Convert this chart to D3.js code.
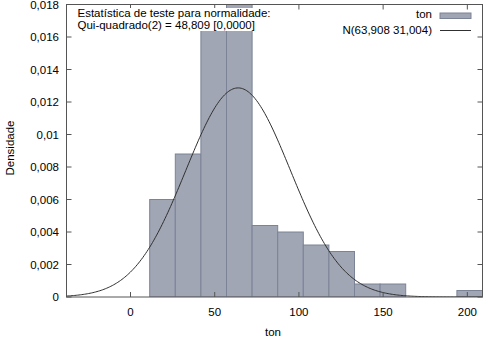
<!DOCTYPE html>
<html><head><meta charset="utf-8">
<script src="https://cdn.jsdelivr.net/npm/d3@7"></script>
<style>
html,body{margin:0;padding:0;background:#fff;}
text{font-family:"Liberation Sans",Arial,sans-serif;fill:#000;}
</style></head>
<body>
<svg id="chart" width="488" height="341"></svg>
<script>
// ---- data ----
const binLower = [11.4, 26.6, 41.8, 57.0, 72.2, 87.4, 102.6, 117.8, 133.0, 148.2, 163.4, 178.6, 193.8];
const binWidth = 15.2;
const density = [0.0060, 0.0088, 0.0165, 0.0184, 0.0044, 0.0040, 0.0032, 0.0028, 0.0008, 0.0008, 0, 0, 0.0004];
const normMean = 63.908;
const normSd = 31.004;
const xTicks = [0, 50, 100, 150, 200];
const yTicks = [0, 0.002, 0.004, 0.006, 0.008, 0.01, 0.012, 0.014, 0.016, 0.018];
const seriesName = "ton";
const curveName = "N(63,908 31,004)";
const statLines = ["Estatística de teste para normalidade:", "Qui-quadrado(2) = 48,809 [0,0000]"];
const xLabel = "ton";
const yLabel = "Densidade";

// ---- layout ----
const L = 66.5, R = 482.5, T = 4.5, B = 297;
const svg = d3.select("#chart");
const x = d3.scaleLinear().domain([-38, 209]).range([L, R]);
const y = d3.scaleLinear().domain([0, 0.018]).range([B, T]);
const fmt = v => v === 0 ? "0" : String(+v.toFixed(3)).replace(".", ",");

svg.append("clipPath").attr("id", "clip")
  .append("rect").attr("x", L).attr("y", T).attr("width", R - L).attr("height", B - T);

const plot = svg.append("g").attr("clip-path", "url(#clip)");

// bars
const bins = binLower.map((lo, i) => ({lo, hi: lo + binWidth, d: density[i]})).filter(b => b.d > 0);
plot.selectAll("rect.bar").data(bins).join("rect")
  .attr("class", "bar")
  .attr("x", b => x(b.lo))
  .attr("width", b => x(b.hi) - x(b.lo))
  .attr("y", b => y(b.d))
  .attr("height", b => y(0) - y(b.d))
  .attr("fill", "#a0a6b4")
  .attr("stroke", "#7b8396")
  .attr("stroke-width", 1);

// normal curve from the stated parameters
const pdf = v => Math.exp(-0.5 * ((v - normMean) / normSd) ** 2) / (normSd * Math.sqrt(2 * Math.PI));
const xs = d3.range(0, 301).map(i => -38 + i * (247 / 300));
plot.append("path")
  .datum(xs)
  .attr("fill", "none")
  .attr("stroke", "#303030")
  .attr("stroke-width", 1)
  .attr("d", d3.line().x(v => x(v)).y(v => y(pdf(v))));

// frame
svg.append("rect").attr("x", L).attr("y", T).attr("width", R - L).attr("height", B - T)
  .attr("fill", "none").attr("stroke", "#555").attr("stroke-width", 1);

// ticks (mirrored, inward)
const tk = 5;
const tg = svg.append("g").attr("stroke", "#555").attr("stroke-width", 1);
xTicks.forEach(v => {
  tg.append("line").attr("x1", x(v)).attr("x2", x(v)).attr("y1", B).attr("y2", B - tk);
  tg.append("line").attr("x1", x(v)).attr("x2", x(v)).attr("y1", T).attr("y2", T + tk);
});
yTicks.forEach(v => {
  tg.append("line").attr("x1", L).attr("x2", L + tk).attr("y1", y(v)).attr("y2", y(v));
  tg.append("line").attr("x1", R).attr("x2", R - tk).attr("y1", y(v)).attr("y2", y(v));
});

// tick labels
svg.selectAll("text.xt").data(xTicks).join("text").attr("class", "xt")
  .attr("x", v => x(v)).attr("y", 316).attr("text-anchor", "middle")
  .attr("font-size", 11.5).text(v => v);
svg.selectAll("text.yt").data(yTicks).join("text").attr("class", "yt")
  .attr("x", 59).attr("y", v => y(v) + 4).attr("text-anchor", "end")
  .attr("font-size", 11.5).text(fmt);

// axis labels
svg.append("text").attr("x", 273).attr("y", 336).attr("text-anchor", "middle")
  .attr("font-size", 11.5).text(xLabel);
svg.append("text").attr("transform", "translate(14,148) rotate(-90)")
  .attr("text-anchor", "middle").attr("font-size", 11.5).text(yLabel);

// stats box
svg.append("rect").attr("x", 75).attr("y", 8).attr("width", 192).attr("height", 23).attr("fill", "#fff");
statLines.forEach((s, i) => {
  svg.append("text").attr("x", 77.5).attr("y", 17 + i * 12).attr("font-size", 11.5).text(s);
});

// legend
svg.append("text").attr("x", 432).attr("y", 18).attr("text-anchor", "end").attr("font-size", 11.5).text(seriesName);
svg.append("rect").attr("x", 440).attr("y", 13).attr("width", 31).attr("height", 5.5)
  .attr("fill", "#a0a6b4").attr("stroke", "#7b8396").attr("stroke-width", 1);
svg.append("text").attr("x", 432).attr("y", 34).attr("text-anchor", "end").attr("font-size", 11.5).text(curveName);
svg.append("line").attr("x1", 440).attr("x2", 471).attr("y1", 30.5).attr("y2", 30.5)
  .attr("stroke", "#303030").attr("stroke-width", 1);
</script>
</body></html>
